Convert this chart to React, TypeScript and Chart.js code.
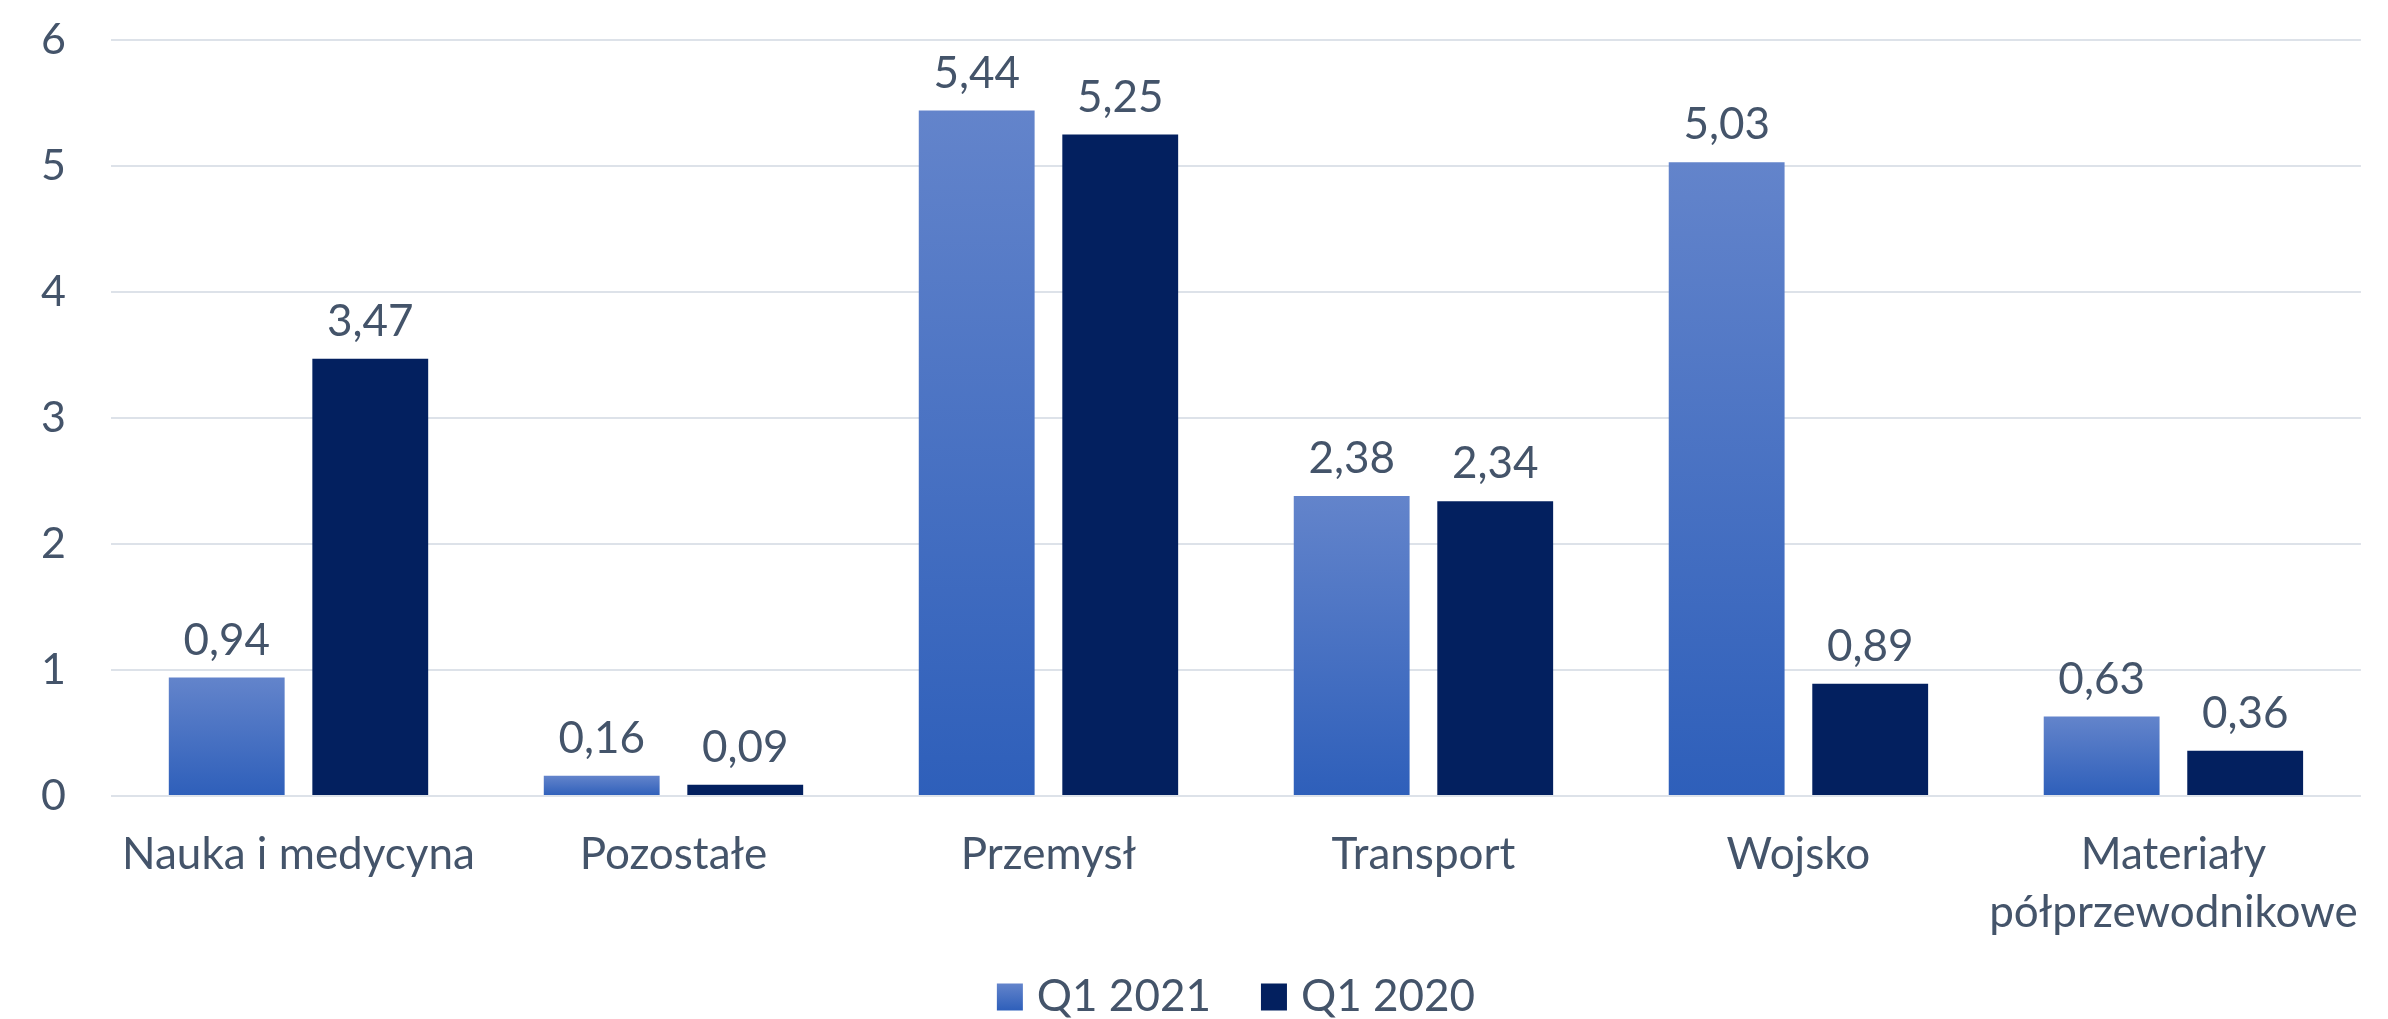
import React, { useEffect, useRef } from "react";
import { Chart, registerables } from "chart.js";

Chart.register(...registerables);

const categories: (string | string[])[] = [
  "Nauka i medycyna",
  "Pozostałe",
  "Przemysł",
  "Transport",
  "Wojsko",
  ["Materiały", "półprzewodnikowe"],
];
const seriesNames = ["Q1 2021", "Q1 2020"];
const q1_2021 = [0.94, 0.16, 5.44, 2.38, 5.03, 0.63];
const q1_2020 = [3.47, 0.09, 5.25, 2.34, 0.89, 0.36];
const yMin = 0;
const yMax = 6;
const yStep = 1;

const TEXT = "#44546A";
const LIGHT_TOP = "#6384CB";
const LIGHT_BOTTOM = "#2E5FBA";
const DARK = "#03205F";
const GRID = "#DDE2E9";
const FONT = "Lato";

const fmt = (v: number) => v.toFixed(2).replace(".", ",");

const valueLabels = {
  id: "valueLabels",
  afterDatasetsDraw(chart: any) {
    const ctx = chart.ctx;
    ctx.save();
    ctx.font = `44px ${FONT}`;
    ctx.fillStyle = TEXT;
    ctx.textAlign = "center";
    ctx.textBaseline = "alphabetic";
    chart.data.datasets.forEach((ds: any, i: number) => {
      const meta = chart.getDatasetMeta(i);
      meta.data.forEach((bar: any, j: number) => {
        ctx.fillText(fmt(ds.data[j]), bar.x, bar.y - 23);
      });
    });
    ctx.restore();
  },
};

// Custom bottom legend drawn from the dataset labels/colours
const bottomLegend = {
  id: "bottomLegend",
  afterDraw(chart: any) {
    const ctx = chart.ctx;
    ctx.save();
    ctx.font = `44px ${FONT}`;
    ctx.textBaseline = "middle";
    ctx.textAlign = "left";
    const box = 26;
    const boxH = 27;
    const gapText = 14;
    const gapItem = 50;
    const items = chart.data.datasets.map((ds: any) => ({
      text: ds.label,
      w: ctx.measureText(ds.label).width,
    }));
    const total = items.reduce((s: number, it: any) => s + box + gapText + it.w, 0) + gapItem * (items.length - 1);
    const cy = chart.chartArea.bottom + 201;
    let x = (chart.chartArea.left + chart.chartArea.right) / 2 - total / 2;
    items.forEach((it: any, i: number) => {
      const top = cy - boxH / 2;
      if (i === 0) {
        const g = ctx.createLinearGradient(0, top, 0, top + boxH);
        g.addColorStop(0, LIGHT_TOP);
        g.addColorStop(1, LIGHT_BOTTOM);
        ctx.fillStyle = g;
      } else {
        ctx.fillStyle = DARK;
      }
      ctx.fillRect(x, top, box, boxH);
      x += box + gapText;
      ctx.fillStyle = TEXT;
      ctx.fillText(it.text, x, cy);
      x += it.w + gapItem;
    });
    ctx.restore();
  },
};

function lightGradient(ctx: any) {
  const chart = ctx.chart;
  const y = chart.scales && chart.scales.y;
  if (!chart.chartArea || !y || ctx.type !== "data") return "#4A72C6";
  const top = y.getPixelForValue(ctx.raw);
  const bottom = y.getPixelForValue(0);
  if (!isFinite(top) || !isFinite(bottom) || bottom - top < 1) return LIGHT_BOTTOM;
  const g = chart.ctx.createLinearGradient(0, top, 0, bottom);
  g.addColorStop(0, LIGHT_TOP);
  g.addColorStop(1, LIGHT_BOTTOM);
  return g;
}

export default function App() {
  const ref = useRef<HTMLCanvasElement | null>(null);

  useEffect(() => {
    let chart: Chart | null = null;
    let cancelled = false;
    const build = () => {
      if (cancelled || !ref.current) return;
      chart = new Chart(ref.current, {
        type: "bar",
        data: {
          labels: categories,
          datasets: [
            {
              label: seriesNames[0],
              data: q1_2021,
              backgroundColor: lightGradient as any,
              borderWidth: 0,
              categoryPercentage: 0.7656,
              barPercentage: 0.807,
            },
            {
              label: seriesNames[1],
              data: q1_2020,
              backgroundColor: DARK,
              borderWidth: 0,
              categoryPercentage: 0.7656,
              barPercentage: 0.807,
            },
          ],
        },
        options: {
          responsive: false,
          animation: false,
          devicePixelRatio: 1,
          layout: { padding: { top: 40, right: 4, left: 0, bottom: 63 } },
          plugins: {
            tooltip: { enabled: false },
            legend: { display: false },
          },
          scales: {
            x: {
              grid: { display: false, drawTicks: false },
              border: { display: false },
              ticks: {
                color: TEXT,
                font: { family: FONT, size: 44, lineHeight: 1.32 },
                padding: 30,
                maxRotation: 0,
                autoSkip: false,
              },
              afterFit: (s: any) => {
                s.height = 160;
              },
            },
            y: {
              min: yMin,
              max: yMax,
              grid: { color: GRID, lineWidth: 2, drawTicks: false },
              border: { display: false },
              ticks: {
                stepSize: yStep,
                color: TEXT,
                font: { family: FONT, size: 43 },
                padding: 45,
                callback: (v: any) => String(v),
              },
              afterFit: (s: any) => {
                s.width = 111;
                s.paddingTop = 25;
                s.paddingBottom = 25;
              },
            },
          },
        },
        plugins: [valueLabels, bottomLegend],
      });
    };
    const fontsReady = (document as any).fonts
      ? Promise.all([
          (document as any).fonts.load(`42px ${FONT}`),
          (document as any).fonts.load(`44px ${FONT}`),
        ]).catch(() => null)
      : Promise.resolve();
    fontsReady.then(build);
    return () => {
      cancelled = true;
      if (chart) chart.destroy();
    };
  }, []);

  return (
    <div style={{ position: "absolute", left: 0, top: 0, width: 2388, height: 1019, background: "#fff" }}>
      <canvas ref={ref} width={2388} height={1019} style={{ width: 2388, height: 1019, display: "block" }} />
    </div>
  );
}
